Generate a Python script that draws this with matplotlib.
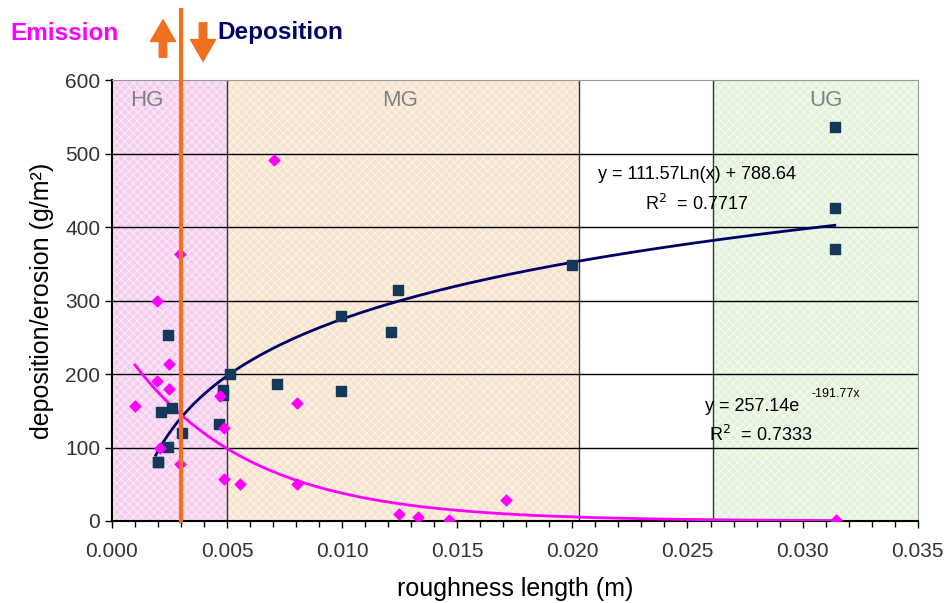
import numpy as np
import matplotlib
matplotlib.use("Agg")
import matplotlib.pyplot as plt

plt.rcParams["font.family"] = ["Liberation Sans", "DejaVu Sans"]

# deposition (squares)
dep_x = [0.00198, 0.00215, 0.00242, 0.00262, 0.00305, 0.00242, 0.00198, 0.00466,
         0.00483, 0.00483, 0.00512, 0.00715, 0.00994, 0.00994, 0.01212, 0.01243,
         0.0200, 0.03142, 0.03142, 0.03142]
dep_y = [80, 148, 253, 154, 120, 101, 80, 132,
         178, 171, 200, 186, 177, 279, 257, 315,
         348, 536, 426, 370]

# emission (diamonds)
emi_x = [0.00295, 0.00197, 0.00249, 0.00197, 0.00249, 0.00099, 0.00471, 0.00486,
         0.00208, 0.00295, 0.00486, 0.00556, 0.00703, 0.00805, 0.00805, 0.01711,
         0.01246, 0.01331, 0.01462, 0.03144]
emi_y = [363, 299, 214, 190, 180, 157, 170, 126,
         99, 78, 57, 50, 491, 161, 50, 29,
         10, 6, 1, 1]

# trend lines as printed on the chart
log_a, log_b = 111.57, 788.64
exp_a, exp_b = 257.14, -191.77

# zone name, start, end, colour, hatch colour, label x
zones = [("HG", 0.0, 0.005, "#f5cdee", "#fbe6f7", 0.0015),
         ("MG", 0.005, 0.0203, "#f7e3cc", "#fcf1e4", 0.0125),
         (None, 0.0203, 0.0261, "white", "white", None),
         ("UG", 0.0261, 0.035, "#e2f3dc", "#f1faee", 0.0310)]
threshold = 0.003

fig = plt.figure(figsize=(9.49, 6.03), dpi=100)
ax = fig.add_axes([0.118, 0.136, 0.849, 0.731])

for name, x0, x1, fc, hc, lx in zones:
    ax.axvspan(x0, x1, facecolor=fc, edgecolor=hc, hatch="xxxx", linewidth=0, zorder=0)
    if name:
        ax.text(lx, 572, name, ha="center", va="center",
                fontsize=16, color="#808080", zorder=5)
for xb in [0.005, 0.0203, 0.0261]:
    ax.axvline(xb, color="#333333", linewidth=1.0, zorder=1)

for yv in range(100, 600, 100):
    ax.axhline(yv, color="black", linewidth=1.0, zorder=1)

xs = np.linspace(0.0019, 0.0314, 200)
ax.plot(xs, log_a * np.log(xs) + log_b, color="#000066", linewidth=2, zorder=3)
xe = np.linspace(0.001, 0.0314, 200)
ax.plot(xe, exp_a * np.exp(exp_b * xe), color="#ff00ff", linewidth=2, zorder=3)

ax.scatter(dep_x, dep_y, marker="s", s=45, color="#14385a", zorder=4)
ax.scatter(emi_x, emi_y, marker="D", s=30, color="#ff00ff", zorder=4)

ax.axvline(threshold, ymin=0, ymax=1.16, color="#f07020", linewidth=3,
           clip_on=False, zorder=6)

ax.text(0.0254, 472, "y = 111.57Ln(x) + 788.64", ha="center", va="center", fontsize=13)
ax.text(0.0254, 432, "R$^2$  = 0.7717", ha="center", va="center", fontsize=13)
ax.text(0.0278, 156, "y = 257.14e", ha="center", va="center", fontsize=13)
ax.text(0.0304, 173, "-191.77x", ha="left", va="center", fontsize=9)
ax.text(0.0282, 117, "R$^2$  = 0.7333", ha="center", va="center", fontsize=13)

ax.set_xlim(0, 0.035)
ax.set_ylim(0, 600)
ax.set_xticks(np.arange(0, 0.0351, 0.005))
ax.set_xticks(np.arange(0, 0.0351, 0.001), minor=True)
ax.set_yticks(range(0, 601, 100))
ax.xaxis.set_major_formatter(matplotlib.ticker.FormatStrFormatter("%.3f"))
ax.tick_params(axis="both", labelsize=15, colors="black", labelcolor="#333333",
               length=5, width=1)
ax.tick_params(axis="x", which="minor", length=4, width=1)
ax.tick_params(axis="x", pad=10)
ax.set_xlabel("roughness length (m)", fontsize=18, labelpad=12)
ax.set_ylabel("deposition/erosion (g/m²)", fontsize=18, labelpad=8)
for side in ["left", "bottom"]:
    ax.spines[side].set_color("black")
    ax.spines[side].set_linewidth(1.5)
for side in ["top", "right"]:
    ax.spines[side].set_color("#999999")

fig.text(10 / 949, 1 - 33 / 603, "Emission", color="#ff00ff", fontsize=17.5,
         fontweight="bold", va="center", ha="left")
fig.text(217 / 949, 1 - 33 / 603, "Deposition", color="#000066", fontsize=17.5,
         fontweight="bold", va="center", ha="left")
arrow_kw = dict(arrowstyle="simple,head_width=1.5,head_length=1.3,tail_width=0.45",
                color="#f07020")
fig.patches.append(matplotlib.patches.FancyArrowPatch(
    (163 / 949, 1 - 60 / 603), (163 / 949, 1 - 17 / 603),
    transform=fig.transFigure, mutation_scale=12, **arrow_kw))
fig.patches.append(matplotlib.patches.FancyArrowPatch(
    (203 / 949, 1 - 20 / 603), (203 / 949, 1 - 64 / 603),
    transform=fig.transFigure, mutation_scale=12, **arrow_kw))

fig.savefig("out.png", dpi=100)
